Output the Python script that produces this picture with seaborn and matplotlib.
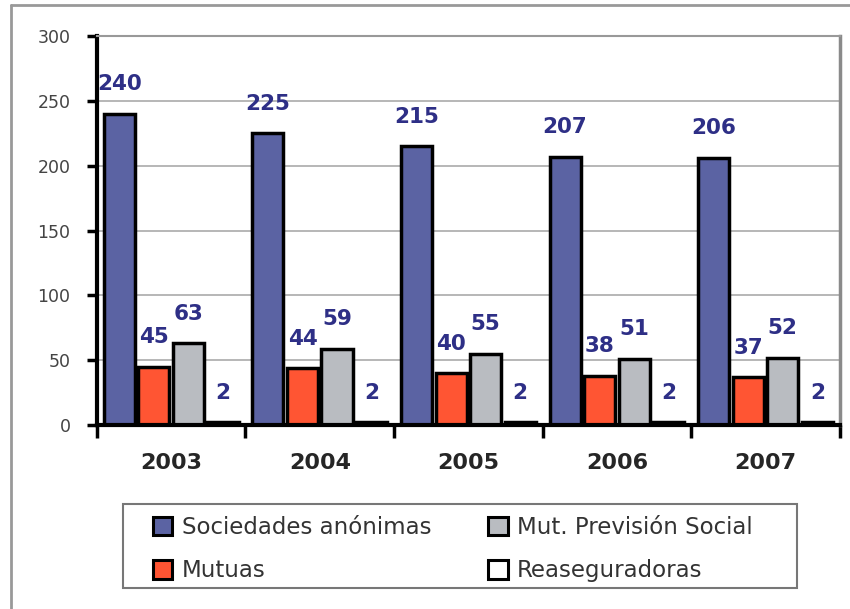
import pandas as pd
import matplotlib.pyplot as plt
import seaborn as sns
from matplotlib.patches import Rectangle
from matplotlib.lines import Line2D

# Datos
years = ['2003', '2004', '2005', '2006', '2007']
series = ['Sociedades anónimas', 'Mutuas', 'Mut. Previsión Social', 'Reaseguradoras']
sociedades = [240, 225, 215, 207, 206]
mutuas = [45, 44, 40, 38, 37]
mut_prevision = [63, 59, 55, 51, 52]
reaseguradoras = [2, 2, 2, 2, 2]
yticks = [0, 50, 100, 150, 200, 250, 300]

colors = ['#5b63a3', '#ff5533', '#b9bcc1', '#ffffff']
label_color = '#2e2f86'

df = pd.DataFrame({
    'year': years * 4,
    'serie': [s for s in series for _ in years],
    'valor': sociedades + mutuas + mut_prevision + reaseguradoras,
})

sns.set_style('white')
fig = plt.figure(figsize=(8.5, 6.09), dpi=100)
ax = fig.add_axes([0.114, 0.302, 0.874, 0.639])

sns.barplot(data=df, x='year', y='valor', hue='serie', order=years,
            hue_order=series, palette=colors, width=0.93, gap=0.1,
            saturation=1, edgecolor='black', linewidth=2.5, ax=ax)

# etiquetas de valores
for cont in ax.containers:
    ax.bar_label(cont, padding=14, color=label_color, fontsize=15.5,
                 fontweight='bold')

ax.set_ylim(0, 300)
ax.set_xlim(-0.5, 4.5)
ax.set_yticks(yticks)
ax.set_yticklabels([str(t) for t in yticks], fontsize=12.5, color='#444444')
ax.yaxis.grid(True, color='#aaaaaa', linewidth=1.2)
ax.set_axisbelow(True)
ax.set_xlabel('')
ax.set_ylabel('')
ax.tick_params(axis='x', which='major', length=0, pad=20, labelsize=16)
for lbl in ax.get_xticklabels():
    lbl.set_fontweight('bold')
ax.set_xticks([-0.5, 0.5, 1.5, 2.5, 3.5, 4.5], minor=True)
ax.tick_params(axis='x', which='minor', bottom=True, length=9, width=2.5,
               color='black', direction='out')
ax.tick_params(axis='y', length=7, width=2.5, color='black', direction='out',
               left=True, pad=12)

for side in ['left', 'bottom']:
    ax.spines[side].set_color('black')
    ax.spines[side].set_linewidth(3)
ax.spines['top'].set_color('#999999')
ax.spines['top'].set_linewidth(1.5)
ax.spines['right'].set_color('#8a8a8a')
ax.spines['right'].set_linewidth(2.5)

# leyenda abajo (sin marco; el marco se dibuja aparte)
handles, labels = ax.get_legend_handles_labels()
ax.legend_.remove()
leg = fig.legend(handles, labels, ncol=2, loc='center left',
                 bbox_to_anchor=(153 / 850, 1 - 549 / 609), fontsize=16.5,
                 frameon=False, handlelength=0.85, handleheight=0.85,
                 handletextpad=0.4, columnspacing=2.5, borderpad=0,
                 labelspacing=0.9, borderaxespad=0)
for t in leg.get_texts():
    t.set_color('#333333')
for h in leg.legend_handles:
    h.set_edgecolor('black')
    h.set_linewidth(2.2)

fig.patches.append(Rectangle((123 / 850, 1 - 588 / 609), 674 / 850, 84 / 609,
                             transform=fig.transFigure, fill=False,
                             edgecolor='#777777', linewidth=1.5))

# borde exterior: solo arriba e izquierda
fig.add_artist(Line2D([11 / 850, 1.0], [1 - 5 / 609, 1 - 5 / 609],
                      transform=fig.transFigure, color='#999999', lw=2))
fig.add_artist(Line2D([11 / 850, 11 / 850], [0.0, 1 - 5 / 609],
                      transform=fig.transFigure, color='#999999', lw=2))

fig.savefig('out.png', dpi=100)
